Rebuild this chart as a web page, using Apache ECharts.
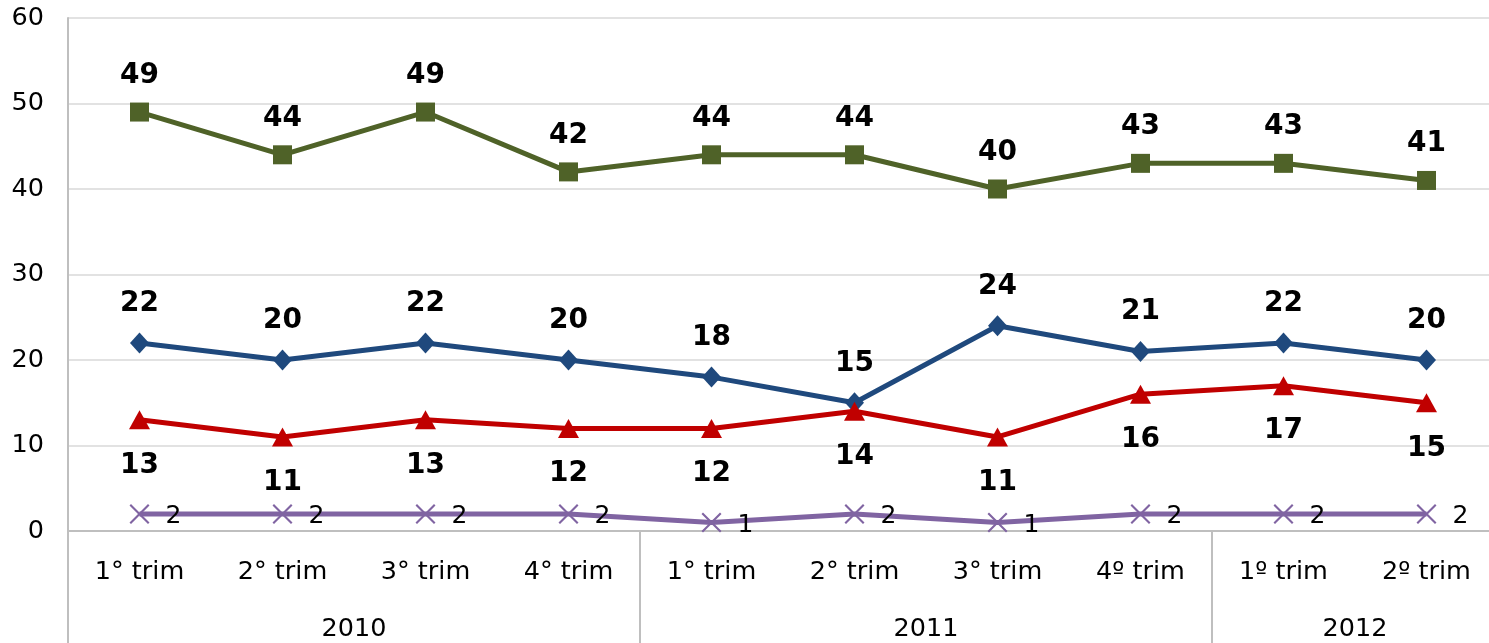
<!DOCTYPE html>
<html>
<head>
<meta charset="utf-8">
<script src="https://cdn.jsdelivr.net/npm/echarts@6/dist/echarts.min.js"></script>
<style>
  html, body { margin: 0; padding: 0; background: #fff; }
  #main { width: 1489px; height: 643px; }
</style>
</head>
<body>
<div id="main"></div>
<script>
// dati
var trimestri = ['1° trim', '2° trim', '3° trim', '4° trim', '1° trim', '2° trim', '3° trim', '4º trim', '1º trim', '2º trim'];
var anni = ['2010', '2011', '2012'];
var anniCentro = [2, 6, 9];      // centro di ogni anno (in trimestri)
var anniConfini = [0, 4, 8, 10]; // separatori verticali
var serieVerde = [49, 44, 49, 42, 44, 44, 40, 43, 43, 41];
var serieBlu = [22, 20, 22, 20, 18, 15, 24, 21, 22, 20];
var serieRossa = [13, 11, 13, 12, 12, 14, 11, 16, 17, 15];
var serieViola = [2, 2, 2, 2, 1, 2, 1, 2, 2, 2];

(function(){
  var myChart = echarts.init(document.getElementById('main'));
  var font = 'DejaVu Sans';
  var grigio = '#bfbfbf';
  var simboloX = 'path://M1.5,0 L10,8.5 L18.5,0 L20,1.5 L11.5,10 L20,18.5 L18.5,20 L10,11.5 L1.5,20 L0,18.5 L8.5,10 L0,1.5 Z';

  function etichetta(pos, dist) {
    return {
      show: true, position: pos, distance: dist,
      color: '#000', fontFamily: font, fontSize: 28, fontWeight: 'bold'
    };
  }

  var option = {
    animation: false,
    grid: { left: 68, top: 18, width: 1430, height: 513, outerBoundsMode: 'none' },
    xAxis: [
      {
        type: 'category',
        data: trimestri,
        boundaryGap: true,
        axisLine: { lineStyle: { color: grigio, width: 2 } },
        axisTick: { show: false },
        axisLabel: { color: '#000', fontFamily: font, fontSize: 25.5, margin: 28, interval: 0 },
        splitLine: { show: false }
      },
      {
        type: 'value',
        min: 0, max: 10,
        position: 'bottom',
        axisLine: { show: false },
        axisTick: { show: true, customValues: anniConfini, length: 112, lineStyle: { color: grigio, width: 2 } },
        axisLabel: {
          customValues: anniCentro, margin: 85,
          color: '#000', fontFamily: font, fontSize: 25.5,
          formatter: function (v) { return anni[anniCentro.indexOf(v)]; }
        },
        splitLine: { show: false }
      }
    ],
    yAxis: {
      type: 'value',
      min: 0, max: 60, interval: 10,
      axisLine: { show: true, lineStyle: { color: grigio, width: 2 } },
      axisTick: { show: false },
      axisLabel: { color: '#000', fontFamily: font, fontSize: 25.5, margin: 24 },
      splitLine: { lineStyle: { color: '#d9d9d9', width: 1.5 } }
    },
    series: [
      {
        name: 'verde', type: 'line', data: serieVerde,
        symbol: 'rect', symbolSize: 19,
        lineStyle: { color: '#4F6228', width: 5 },
        itemStyle: { color: '#4F6228' },
        label: etichetta('top', 13)
      },
      {
        name: 'blu', type: 'line', data: serieBlu,
        symbol: 'diamond', symbolSize: [19, 21],
        lineStyle: { color: '#1F497D', width: 5 },
        itemStyle: { color: '#1F497D' },
        label: etichetta('top', 15)
      },
      {
        name: 'rossa', type: 'line', data: serieRossa,
        symbol: 'triangle', symbolSize: [21, 19],
        lineStyle: { color: '#C00000', width: 5 },
        itemStyle: { color: '#C00000' },
        label: etichetta('bottom', 22)
      },
      {
        name: 'viola', type: 'line', data: serieViola,
        symbol: simboloX, symbolSize: 20,
        lineStyle: { color: '#8064A2', width: 5 },
        itemStyle: { color: '#8064A2' },
        label: {
          show: true, position: 'right', distance: 16, offset: [0, 3],
          color: '#000', fontFamily: font, fontSize: 25
        }
      }
    ]
  };
  myChart.setOption(option);
})();
</script>
</body>
</html>
